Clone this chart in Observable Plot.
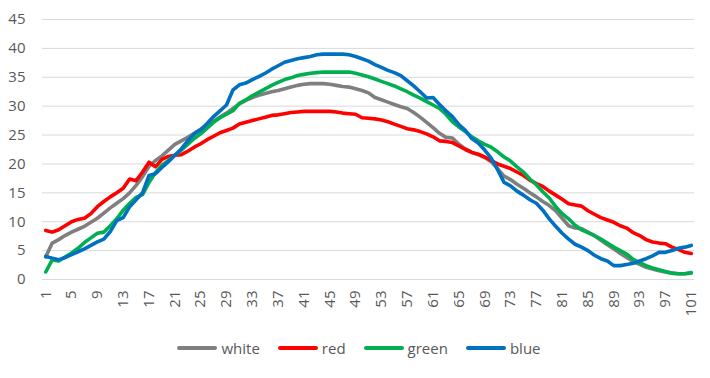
<!DOCTYPE html>
<html>
<head>
<meta charset="utf-8">
<script src="https://cdn.jsdelivr.net/npm/d3@7"></script>
<script src="https://cdn.jsdelivr.net/npm/@observablehq/plot@0.6"></script>
<style>
  body { margin: 0; background: #fff; font-family: "Open Sans", "Liberation Sans", sans-serif; }
  #legend { display: flex; justify-content: center; align-items: center; margin-top: 8px; height: 20px; font-size: 15px; color: #595959; padding-left: 8px; }
  .item { display: flex; align-items: center; margin: 0 9px; }
  .sw { width: 40px; height: 4px; border-radius: 2px; margin-right: 4px; }
</style>
</head>
<body>
<div id="chart"></div>
<div id="legend"></div>
<script>
const seriesNames = ["white", "red", "green", "blue"];
const seriesColors = ["#7f7f7f", "#ff0000", "#00b050", "#0070c0"];
const xTicks = [1,5,9,13,17,21,25,29,33,37,41,45,49,53,57,61,65,69,73,77,81,85,89,93,97,101];
const yTicks = [0,5,10,15,20,25,30,35,40,45];

const white = [3.9,6.3,6.9,7.6,8.2,8.7,9.2,9.9,10.6,11.5,
  12.4,13.2,14.0,15.0,16.3,17.8,19.6,20.6,21.4,22.4,
  23.4,24.0,24.6,25.3,26.0,26.7,27.4,28.1,28.8,29.6,
  30.4,31.0,31.5,31.9,32.2,32.5,32.7,33.0,33.3,33.6,
  33.8,33.9,33.9,33.9,33.8,33.6,33.4,33.3,33.0,32.7,
  32.3,31.5,31.1,30.7,30.3,29.9,29.6,28.9,28.1,27.2,
  26.3,25.3,24.6,24.5,23.4,22.6,22.0,21.6,21.1,20.4,
  19.2,17.9,17.3,16.5,15.8,15.0,14.3,13.5,12.8,11.9,
  10.6,9.3,8.9,8.8,8.2,7.6,6.8,6.0,5.3,4.5,
  3.8,3.1,2.6,2.1,1.8,1.5,1.3,1.1,1.0,1.0,1.1];

const red = [8.5,8.2,8.6,9.3,10.0,10.4,10.6,11.4,12.6,13.5,
  14.3,15.0,15.8,17.4,17.1,18.6,20.3,19.5,20.8,21.3,
  21.5,21.6,22.2,22.9,23.5,24.2,24.8,25.4,25.8,26.2,
  26.9,27.2,27.5,27.8,28.1,28.4,28.5,28.7,28.9,29.0,
  29.1,29.1,29.1,29.1,29.1,29.0,28.8,28.7,28.6,28.0,
  27.9,27.8,27.6,27.3,26.9,26.5,26.1,25.9,25.6,25.2,
  24.7,24.0,23.9,23.7,23.1,22.5,22.0,21.7,21.2,20.6,
  20.0,19.6,19.2,18.6,18.0,17.2,16.6,16.1,15.3,14.6,
  13.9,13.1,12.9,12.7,11.9,11.3,10.7,10.3,9.9,9.3,
  8.9,8.1,7.6,6.9,6.5,6.3,6.2,5.6,5.2,4.7,4.5];

const green = [1.3,3.4,3.2,3.9,4.6,5.4,6.4,7.2,8.0,8.2,
  9.3,10.5,12.0,13.2,14.2,14.7,16.8,18.5,19.8,20.6,
  21.5,22.4,23.4,24.4,25.2,26.2,27.2,28.0,28.6,29.2,
  30.5,31.1,31.8,32.4,33.0,33.6,34.1,34.6,34.9,35.3,
  35.5,35.7,35.8,35.9,35.9,35.9,35.9,35.9,35.7,35.4,
  35.1,34.7,34.3,33.9,33.5,33.0,32.5,31.9,31.4,30.8,
  30.2,29.6,28.6,27.3,26.4,25.6,24.7,24.0,23.4,22.9,
  22.1,21.2,20.5,19.5,18.6,17.4,16.4,15.2,14.1,12.6,
  11.4,10.5,9.4,8.6,8.1,7.6,7.0,6.3,5.6,5.0,
  4.4,3.5,2.9,2.4,2.0,1.7,1.4,1.1,1.0,1.0,1.2];

const blue = [4.0,3.7,3.4,3.8,4.3,4.8,5.3,5.9,6.5,7.0,
  8.3,10.2,10.7,12.6,13.8,15.0,18.0,18.3,19.4,20.4,
  21.5,22.6,24.0,25.2,25.9,27.0,28.2,29.2,30.2,32.8,
  33.7,34.0,34.6,35.1,35.7,36.4,37.0,37.6,37.9,38.2,
  38.4,38.6,38.9,39.0,39.0,39.0,39.0,38.9,38.6,38.2,
  37.8,37.2,36.7,36.2,35.8,35.3,34.4,33.5,32.5,31.4,
  31.5,30.3,29.2,28.2,26.8,25.8,24.4,23.6,22.4,21.0,
  19.0,16.8,16.2,15.3,14.6,13.8,13.2,12.0,10.5,9.2,
  8.0,7.0,6.1,5.6,5.0,4.2,3.6,3.2,2.4,2.4,
  2.6,2.8,3.2,3.6,4.1,4.7,4.7,5.0,5.4,5.6,5.9];

const seriesValues = [white, red, green, blue];
const rows = [];
seriesValues.forEach((vals, s) => vals.forEach((v, i) => rows.push({series: seriesNames[s], x: i + 1, y: v})));

const chart = Plot.plot({
  width: 710,
  height: 330,
  marginTop: 19,
  marginBottom: 51,
  marginLeft: 42,
  marginRight: 16,
  style: {fontFamily: '"Open Sans", "Liberation Sans", sans-serif', fontSize: "15px", color: "#595959", background: "#fff"},
  x: {domain: [0.5, 101.5]},
  y: {domain: [0, 45]},
  marks: [
    Plot.gridY(yTicks, {stroke: "#d9d9d9", strokeOpacity: 1, strokeWidth: 1}),
    Plot.axisY({ticks: yTicks, tickSize: 0, tickPadding: 17, label: null}),
    Plot.axisX({ticks: xTicks, tickSize: 0, tickPadding: 11, tickRotate: -90, label: null}),
    ...seriesNames.map((name, s) => Plot.lineY(rows.filter(r => r.series === name), {
      x: "x", y: "y", stroke: seriesColors[s], strokeWidth: 3.6, strokeLinejoin: "round", strokeLinecap: "round"
    }))
  ]
});
document.getElementById("chart").appendChild(chart);

const legend = document.getElementById("legend");
seriesNames.forEach((name, s) => {
  const item = document.createElement("div");
  item.className = "item";
  const sw = document.createElement("span");
  sw.className = "sw";
  sw.style.background = seriesColors[s];
  const t = document.createElement("span");
  t.textContent = name;
  item.appendChild(sw);
  item.appendChild(t);
  legend.appendChild(item);
});
</script>
</body>
</html>
